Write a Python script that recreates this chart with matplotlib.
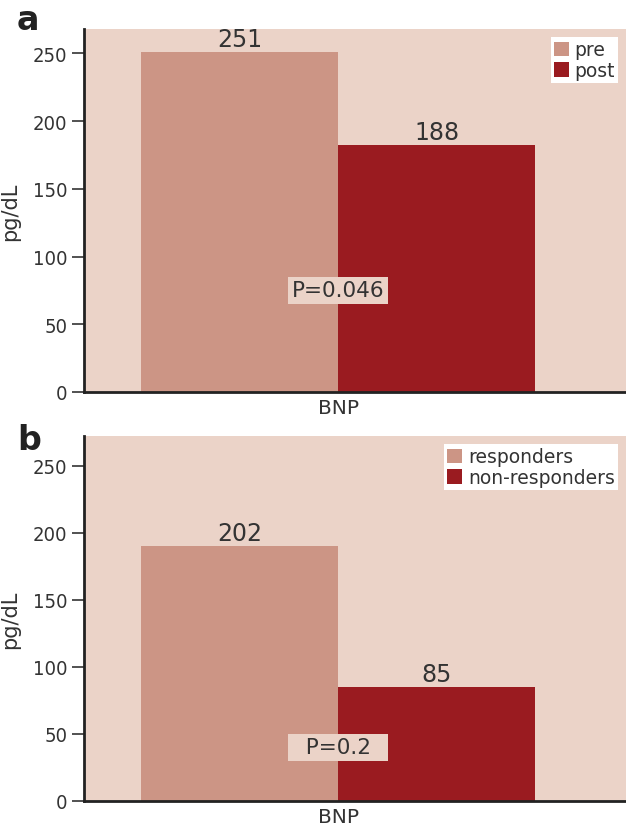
import matplotlib.pyplot as plt

# panel a: pre vs post, panel b: responders vs non-responders
groups_a = ['pre', 'post']
heights_a = [251, 182]
labels_a = ['251', '188']
p_a = 'P=0.046'

groups_b = ['responders', 'non-responders']
heights_b = [190, 85]
labels_b = ['202', '85']
p_b = '  P=0.2  '

category = 'BNP'
yticks = [0, 50, 100, 150, 200, 250]

BG = '#ebd3c8'
colors = ['#cc9585', '#9a1b20']
TXT = '#333333'

fig = plt.figure(figsize=(6.26, 8.29), dpi=100)
W, H = 626, 829


def panel(rect, letter, letter_y, groups, heights, labels, ptxt, p_y, ytop):
    l, t, r, b = rect
    ax = fig.add_axes([l / W, 1 - b / H, (r - l) / W, (b - t) / H])
    ax.set_facecolor(BG)
    xs = [-0.5, 0.5]
    bars = ax.bar(xs, heights, width=1.0, color=colors, label=groups, zorder=2)
    for x, h, s in zip(xs, heights, labels):
        ax.text(x, h + 1, s, ha='center', va='bottom', fontsize=17, color=TXT)
    ax.text(0, p_y, ptxt, ha='center', va='center', fontsize=15.5, color=TXT,
            bbox=dict(facecolor=BG, edgecolor='none', pad=2.5), zorder=3)
    ax.set_xlim(-1.29, 1.46)
    ax.set_ylim(0, ytop)
    ax.set_yticks(yticks)
    ax.set_yticklabels([str(v) for v in yticks], fontsize=14.5,
                       family=['DejaVu Sans'], fontstretch='condensed', color=TXT)
    ax.set_xticks([0])
    ax.set_xticklabels([category], fontsize=14.5, color=TXT)
    ax.tick_params(axis='x', length=0, pad=4)
    ax.tick_params(axis='y', length=9, width=1.2, color=TXT, pad=3)
    for s in ['top', 'right']:
        ax.spines[s].set_visible(False)
    for s in ['left', 'bottom']:
        ax.spines[s].set_linewidth(2)
        ax.spines[s].set_color('#222222')
    ax.set_ylabel('pg/dL', fontsize=15, color=TXT, labelpad=4)
    ax.yaxis.set_label_coords(-0.118, 0.5)
    leg = ax.legend(handles=bars, labels=groups, loc='upper right', fontsize=13.5,
                    frameon=True, fancybox=False, handlelength=0.8, handleheight=0.8,
                    handletextpad=0.3, borderpad=0.15, labelspacing=0.1,
                    borderaxespad=0.45, labelcolor=TXT)
    leg.get_frame().set_facecolor('white')
    leg.get_frame().set_edgecolor('none')
    leg.get_frame().set_alpha(1)
    fig.text(17 / W, 1 - letter_y / H, letter, fontsize=24, fontweight='bold',
             ha='left', va='center', color='#222222')
    return ax


panel((84, 30, 626, 393), 'a', 20, groups_a, heights_a, labels_a, p_a, 75, 268)
panel((84, 437, 626, 802), 'b', 441, groups_b, heights_b, labels_b, p_b, 40, 272)

fig.savefig('out.png', dpi=100)
